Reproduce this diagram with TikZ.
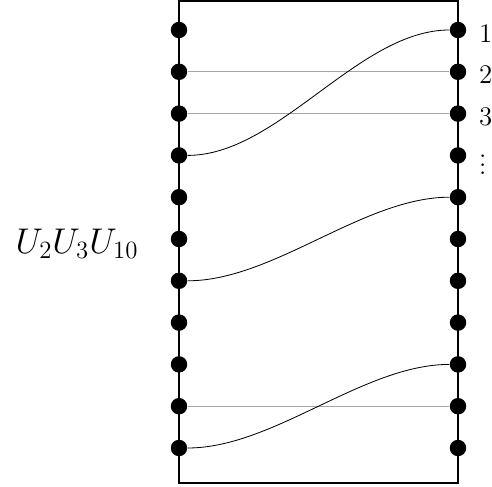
\documentclass[tikz,border=0pt]{standalone}
\usepackage{amsmath, amssymb}
\usepackage{tikz}
\usetikzlibrary{positioning}

\begin{document}
\begin{tikzpicture}[x=0.017cm, y=-0.017cm,
    dot/.style={circle, fill=black, inner sep=0pt, minimum size=0.28cm},
    num/.style={font=\fontsize{13}{15}\selectfont, yshift=-1.5pt},
    wire/.style={draw=black!35, line width=0.5pt},
    cross/.style={draw=black, line width=0.6pt, out=0, in=180, looseness=0.8}]
  \useasboundingbox (0,0) rectangle (492,486);

  % 外框
  \draw[line width=0.7pt] (179,1) rectangle (458,483);

  % 端点
  \foreach \i in {1,...,11} {
    \node[dot] (l\i) at (179,{30+41.8*(\i-1)}) {};
    \node[dot] (r\i) at (458,{30+41.8*(\i-1)}) {};
  }

  % 标签
  \node[num, right=2.5pt of r1] (n1) {1};
  \node[num, right=2.5pt of r2] (n2) {2};
  \node[num, right=2.5pt of r3] (n3) {3};
  \node[num, right=2.5pt of r4] (n4) {$\vdots$};
  \node[font=\fontsize{17.28}{21}\selectfont] (u) at (77,244) {$U_2U_3U_{10}$};

  % 直连
  \draw[wire] (l2) -- (r2);
  \draw[wire] (l3) -- (r3);
  \draw[wire] (l10) -- (r10);

  % 交换
  \draw (l4) to[cross] (r1);
  \draw (l7) to[cross] (r5);
  \draw (l11) to[cross] (r9);
\end{tikzpicture}
\end{document}
